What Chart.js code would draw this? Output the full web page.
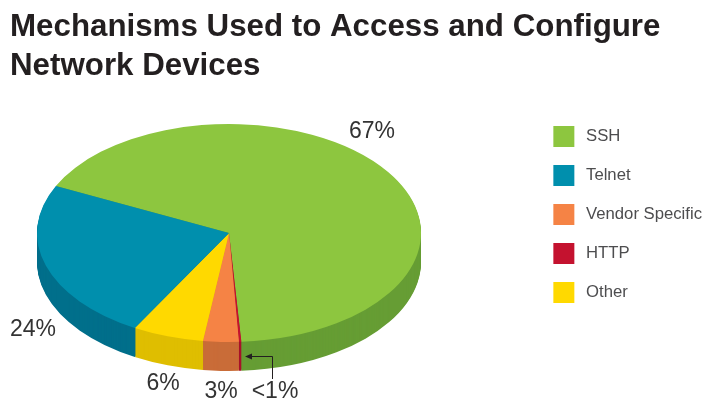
<!DOCTYPE html>
<html>
<head>
<meta charset="utf-8">
<title>Network device access</title>
<script src="https://cdn.jsdelivr.net/npm/chart.js@4"></script>
<style>
  html, body { margin: 0; padding: 0; background: #fff; }
  canvas { display: block; }
</style>
</head>
<body>
<canvas id="myChart" width="704" height="400"></canvas>
<script>
// slices run clockwise starting at the SSH edge
var categories = ["SSH", "HTTP", "Vendor Specific", "Other", "Telnet"];
var shares = [67, 0.2, 3, 6, 24];
var shareLabels = ["67%", "<1%", "3%", "6%", "24%"];
var legendOrder = ["SSH", "Telnet", "Vendor Specific", "HTTP", "Other"];
var titleLines = ["Mechanisms Used to Access and Configure", "Network Devices"];

var topColors = ["#8dc63f", "#c4122f", "#f58345", "#ffd900", "#008fad"];
var sideColors = ["#669d34", "#a8102a", "#c96c38", "#dfbe00", "#006f8b"];

// flattens the round pie into a disc with a wall under it
var tiltedPie = {
    id: "tiltedPie",
    beforeDatasetsDraw: function (chart, args, opts) {
        var ctx = chart.ctx;
        var arcs = chart.getDatasetMeta(0).data;
        var sx = opts.rx / arcs[0].outerRadius;
        var sy = opts.ry / arcs[0].outerRadius;

        var place = function (drop) {
            ctx.setTransform(sx, 0, 0, sy, opts.cx - arcs[0].x * sx, opts.cy + drop - arcs[0].y * sy);
        };

        ctx.save();
        for (var drop = opts.depth; drop > 0; drop--) {
            place(drop);
            arcs.forEach(function (arc, i) {
                var keep = arc.options;
                arc.options = Object.assign({}, keep, { backgroundColor: sideColors[i] });
                arc.draw(ctx);
                arc.options = keep;
            });
        }
        place(0);
    },
    afterDatasetsDraw: function (chart, args, opts) {
        var ctx = chart.ctx;
        ctx.restore();

        ctx.save();
        ctx.fillStyle = opts.labelColor;
        ctx.font = opts.labelFont;
        ctx.textAlign = "center";
        ctx.textBaseline = "middle";
        shareLabels.forEach(function (text, i) {
            ctx.fillText(text, opts.labelAt[i][0], opts.labelAt[i][1]);
        });

        // leader for the thin HTTP slice
        ctx.strokeStyle = "#231f20";
        ctx.fillStyle = "#231f20";
        ctx.lineWidth = 1;
        ctx.beginPath();
        ctx.moveTo(272.5, 379);
        ctx.lineTo(272.5, 356.5);
        ctx.lineTo(250, 356.5);
        ctx.stroke();
        ctx.beginPath();
        ctx.moveTo(245, 356.5);
        ctx.lineTo(252, 353.5);
        ctx.lineTo(252, 359.5);
        ctx.closePath();
        ctx.fill();
        ctx.restore();
    }
};

var ctx = document.getElementById("myChart").getContext("2d");
var myChart = new Chart(ctx, {
    type: "pie",
    plugins: [tiltedPie],
    data: {
        labels: categories,
        datasets: [{
            data: shares,
            backgroundColor: topColors,
            borderWidth: 0,
            clip: false
        }]
    },
    options: {
        responsive: false,
        animation: false,
        events: [],
        rotation: 295.6,
        layout: { padding: { left: 10, right: -8 } },
        plugins: {
            tooltip: { enabled: false },
            title: {
                display: true,
                text: titleLines,
                align: "start",
                color: "#231f20",
                font: { family: "'Liberation Sans'", size: 31.3, weight: "bold", lineHeight: 1.246 },
                padding: { top: 8, bottom: 22 }
            },
            legend: {
                position: "right",
                align: "start",
                fullSize: false,
                labels: {
                    boxWidth: 21,
                    boxHeight: 21,
                    padding: 18,
                    color: "#4d4d4f",
                    font: { family: "'Liberation Sans'", size: 16.7 },
                    // thin space keeps the text a little further off the swatch
                    generateLabels: function (chart) {
                        var items = Chart.overrides.pie.plugins.legend.labels.generateLabels(chart);
                        items.forEach(function (item) { item.text = "\u2009" + item.text; });
                        return items;
                    },
                    sort: function (a, b) {
                        return legendOrder.indexOf(categories[a.index]) - legendOrder.indexOf(categories[b.index]);
                    }
                }
            },
            tiltedPie: {
                cx: 229,
                cy: 233,
                rx: 192,
                ry: 109,
                depth: 29,
                labelColor: "#333333",
                labelFont: "23px 'Liberation Sans'",
                labelAt: [[372, 132], [275, 392], [221, 392], [163, 384], [33, 330]]
            }
        }
    }
});
</script>
</body>
</html>
